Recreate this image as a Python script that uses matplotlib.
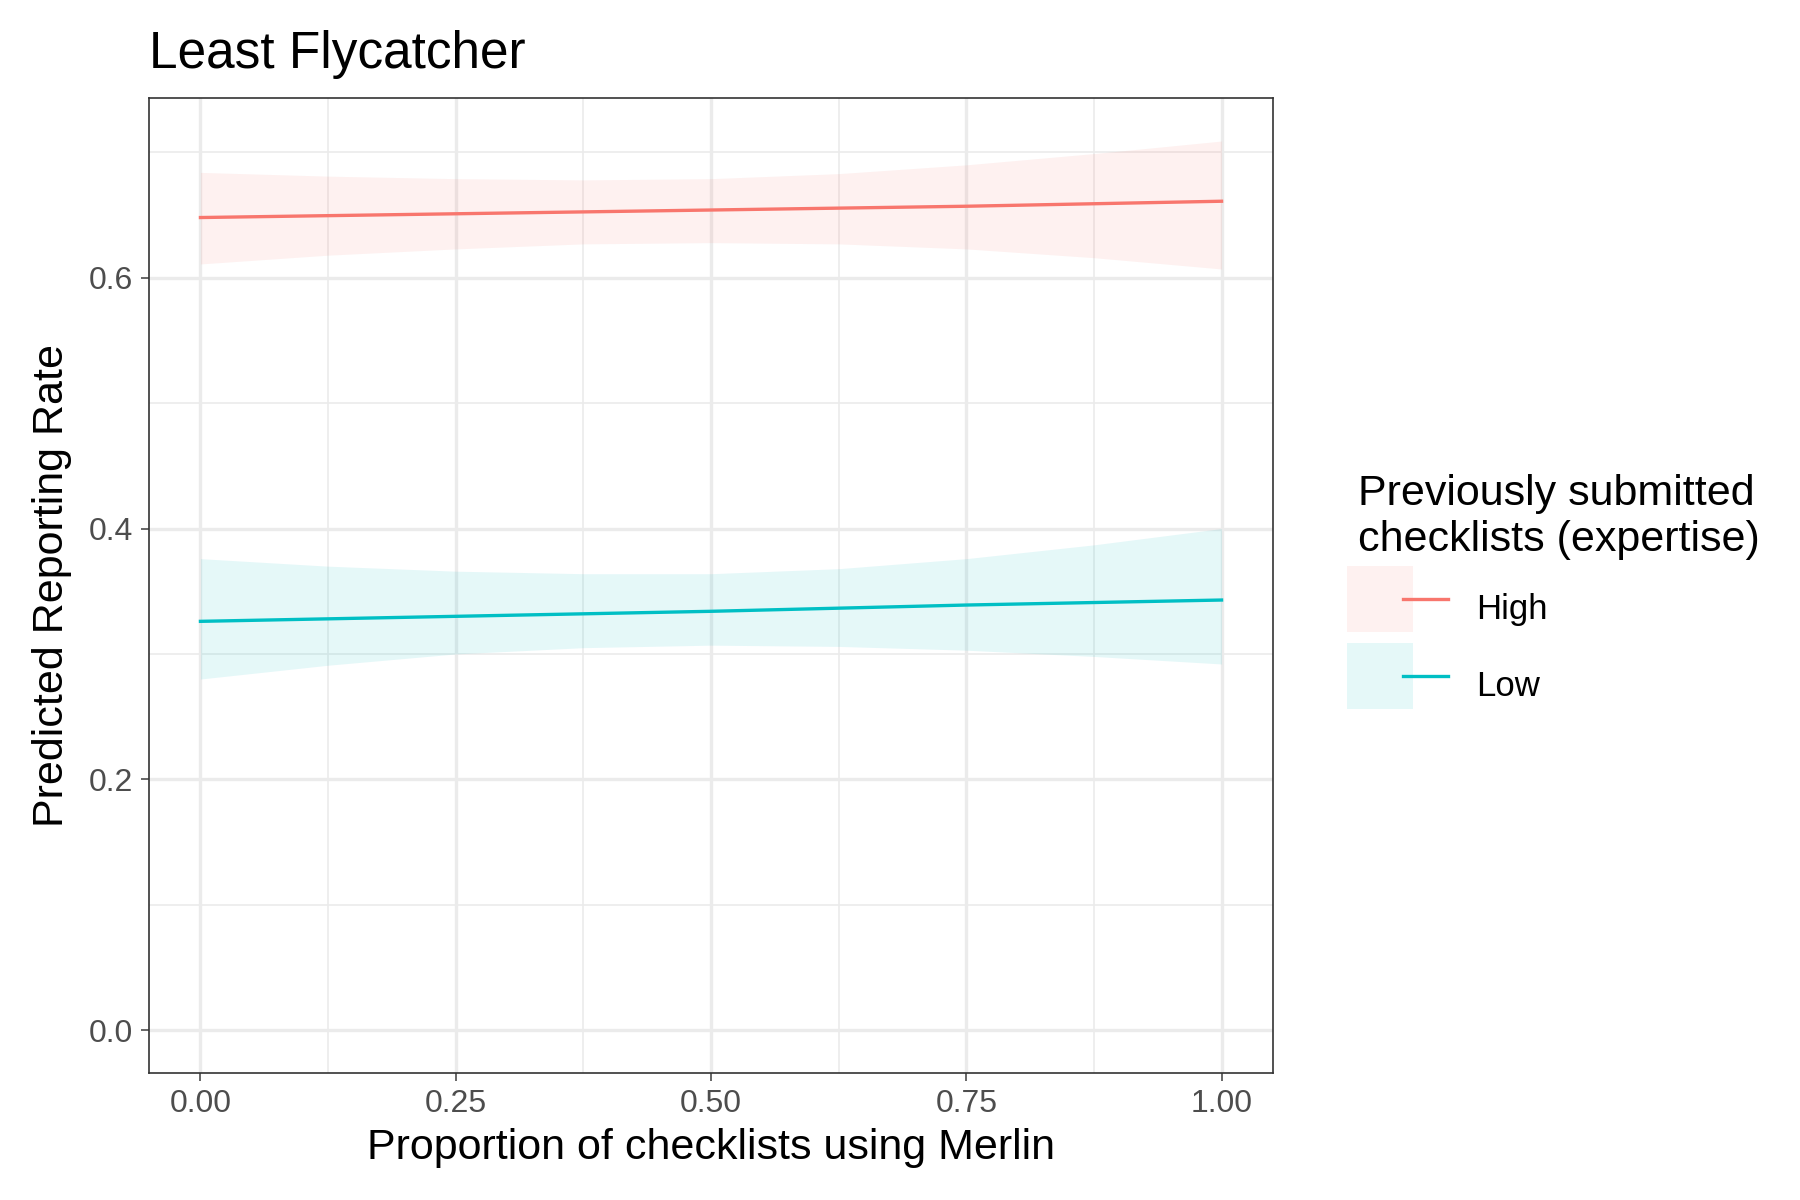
import matplotlib
matplotlib.use("Agg")
import matplotlib.pyplot as plt
from matplotlib.lines import Line2D
from matplotlib.legend_handler import HandlerTuple
from matplotlib.colors import to_rgba

plt.rcParams["font.family"] = ["Liberation Sans", "DejaVu Sans"]

x = [0.0, 0.125, 0.25, 0.375, 0.5, 0.625, 0.75, 0.875, 1.0]
high_fit = [0.648, 0.6495, 0.651, 0.6525, 0.654, 0.6555, 0.657, 0.659, 0.661]
high_lo = [0.611, 0.618, 0.623, 0.627, 0.628, 0.627, 0.623, 0.616, 0.607]
high_hi = [0.684, 0.681, 0.679, 0.678, 0.679, 0.683, 0.690, 0.699, 0.709]
low_fit = [0.326, 0.328, 0.330, 0.332, 0.334, 0.3365, 0.339, 0.341, 0.343]
low_lo = [0.280, 0.291, 0.300, 0.305, 0.307, 0.306, 0.303, 0.298, 0.292]
low_hi = [0.376, 0.370, 0.366, 0.364, 0.364, 0.368, 0.376, 0.387, 0.400]

RED = "#F8766D"
CYAN = "#00BFC4"

fig = plt.figure(figsize=(18, 12), dpi=100)
ax = fig.add_axes([0.083, 0.106, 0.624, 0.812])

ax.fill_between(x, high_lo, high_hi, color=RED, alpha=0.1, linewidth=0)
ax.fill_between(x, low_lo, low_hi, color=CYAN, alpha=0.1, linewidth=0)
ax.plot(x, high_fit, color=RED, lw=2.4)
ax.plot(x, low_fit, color=CYAN, lw=2.4)

ax.set_xlim(-0.05, 1.05)
ax.set_ylim(-0.034, 0.743)
ax.set_xticks([0, 0.25, 0.5, 0.75, 1.0])
ax.set_xticklabels(["0.00", "0.25", "0.50", "0.75", "1.00"])
ax.set_yticks([0, 0.2, 0.4, 0.6])
ax.set_yticklabels(["0.0", "0.2", "0.4", "0.6"])
ax.set_xticks([0.125, 0.375, 0.625, 0.875], minor=True)
ax.set_yticks([0.1, 0.3, 0.5, 0.7], minor=True)
ax.grid(which="major", color="#EBEBEB", lw=2.4)
ax.grid(which="minor", color="#EBEBEB", lw=1.2)
ax.set_axisbelow(True)
ax.tick_params(which="major", labelsize=23, colors="#4D4D4D", length=6, width=1.2, pad=6)
ax.tick_params(which="minor", length=0)
for s in ax.spines.values():
    s.set_color("#333333")
    s.set_linewidth(1.2)

ax.set_xlabel("Proportion of checklists using Merlin", fontsize=31, labelpad=6)
ax.set_ylabel("Predicted Reporting Rate", fontsize=31, labelpad=12)
ax.set_title("Least Flycatcher", fontsize=37, loc="left", pad=22)

handles = [
    (Line2D([], [], ls="none", marker="s", markersize=48, markeredgewidth=0,
            markerfacecolor=to_rgba(RED, 0.1)), Line2D([], [], color=RED, lw=2.4)),
    (Line2D([], [], ls="none", marker="s", markersize=48, markeredgewidth=0,
            markerfacecolor=to_rgba(CYAN, 0.1)), Line2D([], [], color=CYAN, lw=2.4)),
]
leg = fig.legend(handles, ["High", "Low"], handler_map={tuple: HandlerTuple(ndivide=None, pad=0)},
                 title="Previously submitted\nchecklists (expertise)", loc="center left",
                 bbox_to_anchor=(0.737, 0.505), frameon=False, fontsize=25, title_fontsize=31,
                 handlelength=2.6, handleheight=2.2, labelspacing=0.55, handletextpad=0.8)
leg._legend_box.align = "left"

fig.savefig("out.png")
